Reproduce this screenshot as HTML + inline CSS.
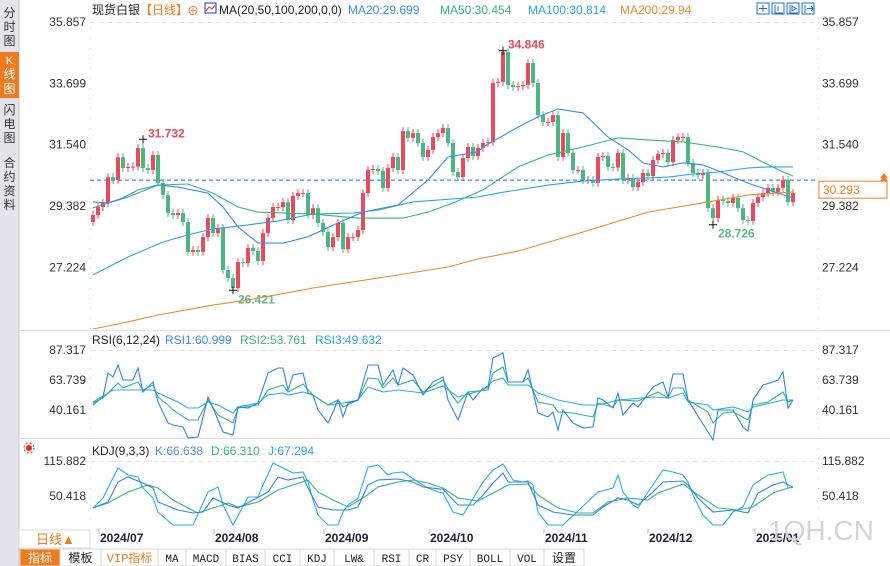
<!DOCTYPE html>
<html><head><meta charset="utf-8">
<style>
body{margin:0;background:#fff;}
svg{display:block;font-family:"Liberation Sans","Noto Sans CJK SC",sans-serif;}
</style></head>
<body>
<svg id="chart" width="890" height="566" viewBox="0 0 890 566" xmlns="http://www.w3.org/2000/svg">
<rect x="0" y="0" width="890" height="566" fill="#fff"/>
<g>
<rect x="0" y="0" width="19" height="566" fill="#e4e4ea"/>
<line x1="19" y1="0" x2="19" y2="566" stroke="#c8c8d0"/>
<g><text x="9.5" y="17" font-size="12" text-anchor="middle" fill="#333">分</text><text x="9.5" y="31" font-size="12" text-anchor="middle" fill="#333">时</text><text x="9.5" y="45" font-size="12" text-anchor="middle" fill="#333">图</text></g>
<g><rect x="0" y="52" width="19" height="46" fill="#f07c1e"/><text x="9.5" y="64" font-size="11" text-anchor="middle" fill="#fff">K</text><text x="9.5" y="78" font-size="12" text-anchor="middle" fill="#fff">线</text><text x="9.5" y="93" font-size="12" text-anchor="middle" fill="#fff">图</text></g>
<g><text x="9.5" y="114" font-size="12" text-anchor="middle" fill="#333">闪</text><text x="9.5" y="128" font-size="12" text-anchor="middle" fill="#333">电</text><text x="9.5" y="142" font-size="12" text-anchor="middle" fill="#333">图</text></g>
<g><text x="9.5" y="167" font-size="12" text-anchor="middle" fill="#333">合</text><text x="9.5" y="181" font-size="12" text-anchor="middle" fill="#333">约</text><text x="9.5" y="195" font-size="12" text-anchor="middle" fill="#333">资</text><text x="9.5" y="209" font-size="12" text-anchor="middle" fill="#333">料</text></g>
</g>
<g id="axes"></g>
<g id="marks"></g>
<g font-size="12">
<text x="92" y="14" fill="#222">现货白银</text>
<text x="140" y="14" fill="#f07c1e">【日线】</text>
<text x="187" y="15" fill="#f07c1e">⊕</text>
<rect x="205" y="3" width="11" height="10" fill="#fff" stroke="#1a3f99"/>
<polyline points="206,11 209,7 212,9 215,5" fill="none" stroke="#d22" stroke-width="1"/>
<text x="219" y="14" fill="#222">MA(20,50,100,200,0,0)</text>
<text x="348" y="14" fill="#3a8ee6">MA20:29.699</text>
<text x="440" y="14" fill="#35b77f">MA50:30.454</text>
<text x="528" y="14" fill="#29a8e0">MA100:30.814</text>
<text x="620" y="14" fill="#f08a30">MA200:29.94</text>
</g>
<g fill="none" stroke="#1a6fd6">
<rect x="757" y="3" width="12" height="11"/>
<rect x="772" y="3" width="12" height="11"/>
<rect x="787" y="3" width="12" height="11"/>
<rect x="802" y="3" width="12" height="11"/>
<path d="M763 5v7M759 8.5h8M775 5v8h8M778 6v5M790 5v8h8M792 6l4 2.5-4 2.5z M805 5v8M807 8.5h6M811 6l2 2.5-2 2.5"/>
</g>
<g font-size="12">
<text x="92" y="344" fill="#222">RSI(6,12,24)</text>
<text x="165" y="344" fill="#3a8ee6">RSI1:60.999</text>
<text x="240" y="344" fill="#35b77f">RSI2:53.761</text>
<text x="315" y="344" fill="#29a8e0">RSI3:49.632</text>
</g>
<g font-size="12">
<text x="92" y="455" fill="#222">KDJ(9,3,3)</text>
<text x="155" y="455" fill="#5a8de6">K:66.638</text>
<text x="211" y="455" fill="#35b77f">D:66.310</text>
<text x="268" y="455" fill="#29a8e0">J:67.294</text>
<circle cx="29" cy="448" r="3" fill="#e22"/>
<circle cx="29" cy="448" r="5" fill="none" stroke="#e22" stroke-dasharray="2 2"/>
</g>
<g id="dateaxis"></g>
<text x="768" y="540" font-size="28" fill="#d4d4d4">1QH.CN</text>
<g>
<rect x="19" y="530" width="71" height="18" fill="#fff" stroke="#ddd"/>
<text x="36" y="544" font-size="13" fill="#f07c1e">日线▲</text>
</g>
<g id="toolbar"></g>
<script>
var closes=[29.07,29.35,29.49,30.4,30.3,31.1,30.72,30.76,30.77,31.42,30.72,30.65,31.18,30.2,29.77,29.14,29.07,29.14,28.82,27.77,27.84,27.77,28.29,28.96,28.43,28.61,27.13,26.85,26.5,27.41,27.38,27.91,27.8,27.45,28.43,28.96,29.35,29.35,29.52,28.89,29.74,29.84,29.84,29.07,29.31,28.79,28.47,27.94,28.29,28.79,27.87,28.29,28.29,28.54,29.84,30.65,30.69,30.62,30.02,30.72,31.11,30.65,32.02,31.78,31.95,31.6,31.11,31.36,31.81,31.95,32.13,31.6,30.58,30.4,31.07,31.46,31.14,31.43,31.6,31.63,33.71,33.75,34.8,33.64,33.57,33.6,33.64,34.41,33.71,32.58,32.34,32.34,32.58,31.11,31.95,31.25,30.65,30.65,30.3,30.3,30.2,31.11,31.14,30.76,30.74,31.25,30.3,30.37,30.05,30.23,30.55,30.44,31.0,31.21,31.25,30.93,31.71,31.81,31.81,30.9,30.55,30.47,30.55,29.31,28.96,29.6,29.56,29.49,29.67,29.31,28.89,28.86,29.49,29.7,29.84,30.02,29.88,30.02,30.3,29.52,29.84];
var firstOpen=28.82;
var wickSize=0.14;
var extremes=[{i:10,type:'high',v:31.732},{i:28,type:'low',v:26.421},{i:82,type:'high',v:34.846},{i:124,type:'low',v:28.726}];
var lastPrice=30.293;
var priceTicks=[35.857,33.699,31.540,29.382,27.224];
var ma20Idx=[0,3,6,9,13,17,23,26,29,33,38,43,49,54,61,67,71,77,78,85,89,93,98,103,107,110,114,118,122,126,131,135,140];
var ma20Val=[29.53,29.49,29.67,29.95,30.12,30.05,29.84,29.35,28.65,28.08,28.08,28.3,28.79,29.17,29.42,30.3,31.11,31.29,31.46,32.16,32.52,32.8,32.66,31.81,31.36,30.9,30.76,30.9,30.83,30.55,30.19,29.95,29.67];
var ma50Idx=[0,7,13,19,24,29,33,44,53,62,67,72,78,85,91,98,105,111,118,125,130,134,138,140];
var ma50Val=[29.32,29.7,30.12,30.16,29.84,29.35,29.17,29.1,28.96,28.96,29.17,29.49,29.95,30.76,31.18,31.46,31.78,31.71,31.64,31.46,31.29,30.93,30.58,30.44];
var ma100Idx=[0,7,14,19,24,31,37,44,52,57,64,77,81,91,98,105,115,120,125,131,135,140];
var ma100Val=[26.96,27.59,28.12,28.37,28.58,28.72,28.86,29.1,29.14,29.24,29.53,29.7,29.84,30.12,30.26,30.33,30.4,30.51,30.58,30.72,30.76,30.76];
var ma200Idx=[0,6,13,24,31,44,57,71,77,85,98,111,123,131,140];
var ma200Val=[25.06,25.27,25.55,25.9,26.08,26.5,26.85,27.24,27.52,27.8,28.47,29.17,29.53,29.77,29.88];
var rsiTicks=[87.317,63.739,40.161];
var rsi1Idx=[0,2,3,4,5,6,8,9,10,12,13,15,16,18,19,21,23,24,26,28,29,31,33,35,37,38,39,40,42,43,44,45,47,48,49,50,51,53,55,57,58,60,61,62,64,66,68,70,71,73,75,76,78,79,80,82,83,86,87,89,91,92,93,94,96,98,100,101,102,104,105,106,108,109,112,114,115,116,118,119,123,124,125,128,130,131,132,134,136,137,138,139,140];
var rsi1Val=[44.09,50.38,69.24,66.1,75.53,63.74,63.74,73.17,54.3,62.17,46.45,29.94,28.37,26.8,18.15,18.94,50.38,41.73,22.87,20.51,42.52,41.73,45.66,69.24,73.17,73.17,55.87,67.67,69.24,53.52,51.95,40.16,29.94,38.59,48.02,34.68,45.66,48.02,75.53,75.53,59.81,71.6,59.81,73.17,67.67,51.95,62.17,66.1,48.02,32.3,54.3,48.02,57.45,57.45,81.03,84.96,62.17,62.17,71.6,37.8,34.68,38.59,24.44,40.16,29.94,26.01,26.8,49.59,48.02,41.73,53.52,36.23,45.66,42.52,58.23,62.17,50.38,68.45,68.45,48.02,22.87,16.58,40.16,40.16,26.8,23.65,48.02,59.81,62.17,63.74,70.02,41.73,48.02];
var rsi2Idx=[0,2,5,6,9,10,12,13,15,16,19,21,23,25,28,29,33,35,38,39,42,44,47,49,50,53,55,57,58,60,61,64,66,70,72,73,75,79,80,82,83,86,87,89,92,93,96,98,100,101,104,105,109,113,115,116,118,119,123,124,126,128,131,132,135,138,139,140];
var rsi2Val=[45.66,49.59,61.38,57.45,62.17,55.87,59.81,50.38,44.09,40.16,32.3,32.3,48.02,36.23,29.94,41.73,44.09,55.87,59.81,54.3,60.59,51.95,44.09,48.02,42.52,48.02,65.31,64.52,57.45,65.31,59.81,63.74,54.3,63.74,50.38,45.66,54.3,55.87,69.24,73.95,62.17,62.17,65.31,46.45,44.09,38.59,37.8,36.23,34.68,45.66,42.52,48.02,47.23,54.3,49.59,57.45,57.45,48.02,38.59,29.94,37.8,38.59,32.3,44.09,46.45,54.3,46.45,48.02];
var rsi3Idx=[0,4,8,12,13,17,19,21,23,25,28,29,33,35,38,39,42,44,47,50,53,55,58,61,66,70,73,78,80,82,83,87,89,93,98,101,105,112,115,118,119,123,124,128,131,132,138,140];
var rsi3Val=[46.45,55.87,55.87,55.87,53.52,46.45,41.73,41.73,46.45,44.09,37.8,42.52,45.66,51.95,53.52,51.95,54.3,51.95,44.09,45.66,48.02,58.23,54.3,55.87,53.52,59.02,50.38,55.87,62.95,65.31,59.81,59.81,53.52,48.02,44.09,44.09,48.02,50.38,49.59,53.52,46.45,44.09,40.16,42.52,38.59,42.52,48.02,48.02];
var kdjTicks=[115.882,50.418];
var kIdx=[0,3,5,7,10,12,13,17,20,22,24,27,29,32,35,37,39,42,43,45,48,51,53,55,57,61,64,66,70,73,76,78,80,82,83,87,89,92,96,100,102,105,107,109,112,114,118,119,121,124,128,131,133,136,138,140];
var kVal=[27.97,39.19,76.6,85.96,74.73,65.38,39.19,24.23,18.62,20.49,46.69,33.59,27.97,42.93,57.9,85.96,80.34,85.96,65.38,29.84,24.23,24.23,29.84,70.99,80.34,82.21,76.6,67.25,63,33.59,33.59,52.29,74.73,93.44,76.6,76.6,33.59,20.49,14.88,14.88,29.84,46.69,42.93,33.59,57.9,76.6,78.5,70.99,46.69,20.49,24.23,18.62,55.8,70.99,76.6,66.64];
var dIdx=[0,3,7,11,13,16,19,21,24,27,29,33,37,40,43,45,48,51,54,57,61,64,67,70,73,77,80,83,87,89,93,97,100,103,107,111,113,118,121,125,129,132,136,139,140];
var dVal=[27.97,37.32,57.9,70.99,65.38,42.93,27.97,18.62,27.97,37.32,29.84,39.19,61.64,70.99,80.34,57.9,42.93,29.84,46.69,67.25,76.6,80.34,74.73,65.38,46.69,41.06,56.03,70.99,72.86,52.29,27.97,18.62,18.62,39.19,46.69,42.93,56.03,72.86,52.29,27.97,24.23,29.84,56.03,65.38,66.3];
var jIdx=[0,2,5,7,9,10,12,13,16,20,23,25,26,27,28,31,33,34,36,38,40,42,43,44,45,47,49,50,51,53,55,57,59,60,62,65,67,69,70,72,74,78,80,82,84,86,87,88,89,91,94,101,104,105,106,108,109,111,114,116,118,119,120,122,124,126,128,130,132,135,138,139,140];
var jVal=[27.97,46.69,102.79,89.7,85.96,65.38,46.69,20.49,-3.8,-3.8,57.9,67.25,33.59,14.88,-3.8,48.55,48.55,70.99,112.14,102.79,93.44,95.31,76.6,42.93,14.88,-3.8,-3.8,20.49,33.59,46.69,104.66,108.4,89.7,93.44,95.31,76.6,65.38,57.9,56.03,20.49,14.88,76.6,99.05,110.27,80.34,76.6,78.47,70.99,20.49,-3.8,-3.8,57.9,65.38,89.7,57.9,33.59,27.97,57.9,99.05,95.31,89.7,76.6,52.29,14.88,-3.8,-3.8,20.49,30,70.99,89.7,95.31,65.38,67.29];
var dateLabels=['2024/07','2024/08','2024/09','2024/10','2024/11','2024/12','2025/01'];
var dateIdx=[1.2,24.2,46.2,67.2,90.2,111,132.4];
var toolbarItems=['指标','模板','VIP指标','MA','MACD','BIAS','CCI','KDJ','LW&','RSI','CR','PSY','BOLL','VOL','设置'];
var toolbarWidths=[40,41,57,28,40,39,35,34,40,35,27,34,40,34,40];

var NS='http://www.w3.org/2000/svg';
function xOf(i){return 93+i*5.0;}
function yP(p){return 22+(35.857-p)*28.43;}
function yR(v){return 350+(87.317-v)*30/23.578;}
function yK(v){return 461+(115.882-v)*35/65.464;}
var RED='#ea4a5e',GREEN='#4cb784';
function mk(tag,attrs,parent){var e=document.createElementNS(NS,tag);for(var k in attrs)e.setAttribute(k,attrs[k]);parent.appendChild(e);return e;}
var axes=document.getElementById('axes'),marks=document.getElementById('marks');

mk('line',{x1:19,y1:330.5,x2:890,y2:330.5,stroke:'#e2e2e2'},axes);
mk('line',{x1:19,y1:438.5,x2:890,y2:438.5,stroke:'#e2e2e2'},axes);
mk('line',{x1:90.5,y1:18,x2:90.5,y2:528,stroke:'#ccc','stroke-dasharray':'1 9'},axes);
mk('line',{x1:818.5,y1:18,x2:818.5,y2:528,stroke:'#ccc','stroke-dasharray':'1 9'},axes);
mk('line',{x1:90,y1:22.5,x2:818,y2:22.5,stroke:'#e6e6e6','stroke-dasharray':'5 4'},axes);
mk('line',{x1:90,y1:350.5,x2:818,y2:350.5,stroke:'#e6e6e6','stroke-dasharray':'5 4'},axes);
mk('line',{x1:90,y1:461.5,x2:818,y2:461.5,stroke:'#e6e6e6','stroke-dasharray':'5 4'},axes);

function tickLabels(ticks,yf,name){
  ticks.forEach(function(t){
    var s=t.toFixed(3);
    var a=mk('text',{x:86,y:yf(t)+4,'font-size':12,'text-anchor':'end',fill:'#333'},axes);a.textContent=s;
    
    
    var b=mk('text',{x:822,y:yf(t)+4,'font-size':12,fill:'#333'},axes);b.textContent=s;
    
    
  });
}
tickLabels(priceTicks,yP,'price');
tickLabels(rsiTicks,yR,'rsi');
tickLabels(kdjTicks,yK,'kdj');

var ly=yP(lastPrice);
mk('line',{x1:90,y1:ly,x2:818,y2:ly,stroke:'#1a6fd6','stroke-dasharray':'4 3'},marks);
var tag=mk('rect',{x:819,y:ly+1,width:68,height:17,fill:'#fff',stroke:'#f07c1e'},marks);


var tt=mk('text',{x:823,y:ly+14,'font-size':12,fill:'#f07c1e'},marks);tt.textContent=lastPrice.toFixed(3);
mk('path',{d:'M880 '+(ly-2)+'l4-5 4 5z M880 '+(ly+1)+'l4-5 4 5z',fill:'#f07c1e'},marks);

var prev=firstOpen;
closes.forEach(function(c,i){
  var o=prev;prev=c;
  var up=c>=o,col=up?RED:GREEN,x=xOf(i);
  var top=yP(Math.max(o,c)),bot=yP(Math.min(o,c));
  var hi=Math.max(o,c)+wickSize,lo=Math.min(o,c)-wickSize;
  extremes.forEach(function(e){if(e.i===i){if(e.type==='high')hi=e.v;else lo=e.v;}});
  var w=mk('line',{x1:x,y1:yP(hi),x2:x,y2:yP(lo),stroke:col,'stroke-width':1},marks);
  
  
  var r=mk('rect',{x:x-2,y:top,width:4,height:Math.max(1,bot-top),fill:col},marks);
  
  
});
extremes.forEach(function(e){
  var x=xOf(e.i),y=yP(e.v);
  mk('path',{d:'M'+(x-4)+' '+y+'h8M'+x+' '+(y-4)+'v8',stroke:'#111'},marks);
  var t=mk('text',{x:x+5,y:e.type==='high'?y-2:y+13,'font-size':12,'font-weight':'bold',fill:e.type==='high'?'#e84a5f':'#5cb88a'},marks);
  t.textContent=e.v.toFixed(3);
  
  
});

var defs=mk('defs',{},document.getElementById('chart'));
var cp=mk('clipPath',{id:'clipK'},defs);mk('rect',{x:90,y:18,width:730,height:510},cp);
function line(idx,val,yf,color,name){
  var pts=idx.map(function(i,k){return xOf(i).toFixed(1)+','+yf(val[k]).toFixed(1);}).join(' ');
  var p=mk('polyline',{points:pts,fill:'none',stroke:color,'stroke-width':1.1,'clip-path':'url(#clipK)'},marks);
  
  
}
line(ma200Idx,ma200Val,yP,'#f08a30','ma200-line');
line(ma100Idx,ma100Val,yP,'#29a8e0','ma100-line');
line(ma50Idx,ma50Val,yP,'#35b77f','ma50-line');
line(ma20Idx,ma20Val,yP,'#3a8ee6','ma20-line');
line(rsi3Idx,rsi3Val,yR,'#29b0e8','rsi3-line');
line(rsi2Idx,rsi2Val,yR,'#35b77f','rsi2-line');
line(rsi1Idx,rsi1Val,yR,'#2f86ea','rsi1-line');
line(jIdx,jVal,yK,'#29b0e8','kdj-j-line');
line(dIdx,dVal,yK,'#35b77f','kdj-d-line');
line(kIdx,kVal,yK,'#2f86ea','kdj-k-line');

var da=document.getElementById('dateaxis');
mk('rect',{x:90,y:529,width:728,height:19,fill:'#fff'},da);
dateLabels.forEach(function(d,k){
  var x=xOf(dateIdx[k]);
  mk('line',{x1:x,y1:529,x2:x,y2:534,stroke:'#bbb'},da);
  var t=mk('text',{x:x+1,y:542,'font-size':12,'font-weight':'bold',fill:'#223'},da);t.textContent=d;
  
  
});

var tb=document.getElementById('toolbar');
var tx=20;
toolbarItems.forEach(function(s,k){
  var w=toolbarWidths[k];
  var g=mk('g',{},tb);
  
  
  mk('rect',{x:tx,y:549,width:w,height:17,fill:k===0?'#f07c1e':'#fff',stroke:'#d8d8d8'},g);
  var t=mk('text',{x:tx+w/2,y:562,'font-size':12,'text-anchor':'middle',fill:k===0?'#fff':(k===2?'#f07c1e':'#222'),'font-family':'"Liberation Mono","Noto Sans CJK SC",monospace'},g);
  if(/^[\x00-\x7f]+$/.test(s)) t.setAttribute('font-size','11');
  t.textContent=s;
  tx+=w;
});
</script>
</svg>
</body></html>
